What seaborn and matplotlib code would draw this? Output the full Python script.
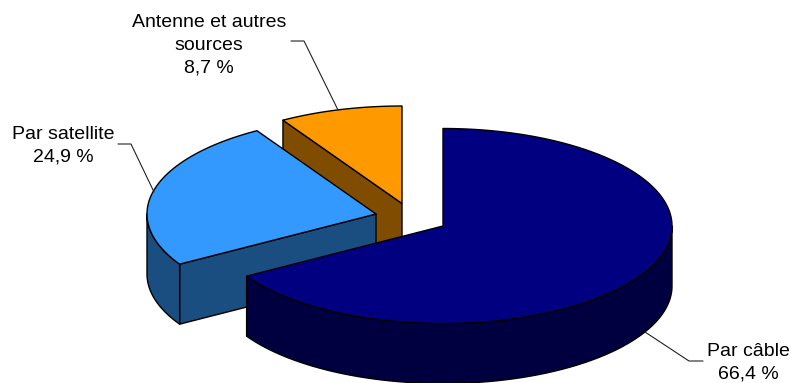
import numpy as np
import matplotlib
matplotlib.use("Agg")
import matplotlib.pyplot as plt
from matplotlib.patches import Polygon
import seaborn as sns

# data
labels = ["Par câble\n66,4 %", "Par satellite\n24,9 %", "Antenne et autres\nsources\n8,7 %"]
shares = [66.4, 24.9, 8.7]
colors = ["#000080", "#3399FF", "#FF9900"]

# layout in pixels
centers = [(443, 226), (376, 214), (402, 203.5)]
rx, ry, depth = 229, 97.5, 60
text_pos = [(748, 362.5), (63, 146), (209, 45)]
leaders = [
    [(703, 361), (689, 361), (645, 332)],
    [(118, 144), (131, 144), (154, 192)],
    [(291, 41), (304, 41), (338, 110)],
]

sns.set_style("white")
plt.rcParams["font.family"] = ["Liberation Sans", "DejaVu Sans"]

fig, ax = plt.subplots(figsize=(7.91, 3.83), dpi=100)
ax.set_position([0, 0, 1, 1])
ax.set_xlim(0, 791)
ax.set_ylim(383, 0)
ax.axis("off")


def rim(c, t):
    # t is clockwise from the top, in radians
    return np.column_stack([c[0] + rx * np.sin(t), c[1] - ry * np.cos(t)])


def face(pts, col):
    ax.add_patch(Polygon(pts, closed=True, facecolor=col, edgecolor="black", lw=1.0, joinstyle="round"))


ends = np.cumsum(shares) / np.sum(shares) * 2 * np.pi
starts = np.concatenate([[0], ends[:-1]])

# back to front
for i in [2, 1, 0]:
    c = centers[i]
    t0, t1 = starts[i], ends[i]
    col = sns.color_palette([colors[i]])[0]
    dark = tuple(np.array(col) * 0.5)
    down = np.array([0, depth])

    for t, vis in [(t0, np.sin(t0) < -1e-9), (t1, np.sin(t1) > 1e-9)]:
        if vis:
            p = rim(c, np.array([t]))[0]
            face([c, p, p + down, np.array(c) + down], dark)

    # outer wall, only the part facing the viewer
    a, b = max(t0, np.pi / 2), min(t1, 3 * np.pi / 2)
    if a < b:
        edge = rim(c, np.linspace(a, b, 120))
        face(np.vstack([edge, edge[::-1] + down]), dark)

    top = rim(c, np.linspace(t0, t1, 240))
    face(np.vstack([[c], top]), col)

for (x, y), lab in zip(text_pos, labels):
    ax.text(x, y, lab, ha="center", va="center", fontsize=14, color="black", linespacing=1.45)

for line in leaders:
    xs, ys = zip(*line)
    ax.plot(xs, ys, color="#222222", lw=0.8)

fig.savefig("out.png", dpi=100)
